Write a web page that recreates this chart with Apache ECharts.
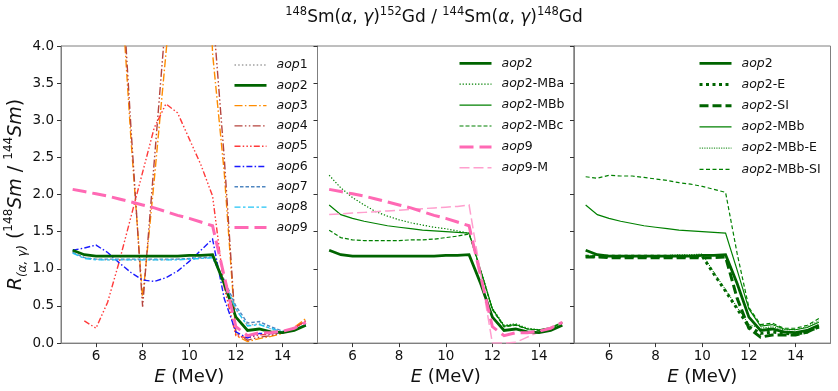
<!DOCTYPE html>
<html>
<head>
<meta charset="utf-8">
<script src="https://cdn.jsdelivr.net/npm/echarts@6/dist/echarts.min.js"></script>
<style>html,body{margin:0;padding:0;background:#fff}#c{width:838px;height:391px}</style>
</head>
<body>
<div id="c"></div>
<script>
// ---- data ----
const E = [5, 5.5, 6, 6.5, 7, 7.5, 8, 8.5, 9, 9.5, 10, 10.5, 11, 11.5, 12, 12.5, 13, 13.5, 14, 14.5, 15];
const xTicks = [6, 8, 10, 12, 14];
const yTicks = [0, 0.5, 1, 1.5, 2, 2.5, 3, 3.5, 4];

const aop1 = [1.22, 1.15, 1.13, 1.12, 1.12, 1.12, 1.12, 1.12, 1.12, 1.13, 1.13, 1.14, 1.15, 0.82, 0.45, 0.24, 0.26, 0.19, 0.15, 0.18, 0.25];
const aop2 = [1.25, 1.19, 1.17, 1.17, 1.17, 1.17, 1.17, 1.17, 1.17, 1.17, 1.18, 1.18, 1.19, 0.80, 0.35, 0.17, 0.19, 0.15, 0.14, 0.17, 0.24];
const aop3 = [7.5, 8.5, 9.0, 8.0, 5.2, 2.75, 0.6, 2.2, 3.9, 5.6, 7.0, 8.0, 3.9, 2.3, 0.10, 0.02, 0.06, 0.09, 0.13, 0.21, 0.33];
const aop4 = [7.8, 8.8, 9.3, 8.3, 5.5, 2.9, 0.49, 2.45, 4.4, 6.0, 7.3, 9.0, 4.5, 2.5, 0.13, 0.04, 0.08, 0.10, 0.14, 0.20, 0.30];
const aop5 = [null, 0.30, 0.20, 0.55, 1.10, 1.70, 2.30, 2.90, 3.22, 3.10, 2.75, 2.40, 1.98, 0.75, 0.10, 0.07, 0.11, 0.12, 0.14, 0.20, 0.30];
const aop6 = [1.25, 1.28, 1.32, 1.22, 1.08, 0.95, 0.85, 0.83, 0.88, 0.97, 1.10, 1.25, 1.40, 0.60, 0.15, 0.07, 0.13, 0.13, 0.14, 0.18, 0.24];
const aop7 = [1.22, 1.15, 1.13, 1.13, 1.13, 1.13, 1.13, 1.13, 1.13, 1.13, 1.14, 1.15, 1.16, 0.85, 0.50, 0.27, 0.29, 0.22, 0.16, 0.18, 0.24];
const aop8 = [1.21, 1.14, 1.12, 1.12, 1.12, 1.12, 1.12, 1.12, 1.12, 1.12, 1.13, 1.14, 1.15, 0.82, 0.46, 0.23, 0.25, 0.20, 0.15, 0.18, 0.25];
const aop9 = [2.07, 2.04, 2.01, 1.98, 1.94, 1.90, 1.86, 1.82, 1.77, 1.72, 1.68, 1.63, 1.58, 0.90, 0.22, 0.10, 0.14, 0.14, 0.16, 0.20, 0.28];
const aop9M = [1.73, 1.74, 1.75, 1.76, 1.77, 1.78, 1.79, 1.80, 1.81, 1.82, 1.83, 1.84, 1.86, 0.93, 0.00, 0.00, 0.01, 0.08, 0.15, 0.21, 0.28];
const aop2MBa = [2.26, 2.09, 1.96, 1.86, 1.77, 1.71, 1.66, 1.62, 1.59, 1.56, 1.54, 1.51, 1.48, 0.98, 0.47, 0.24, 0.26, 0.20, 0.18, 0.20, 0.27];
const aop2MBb = [1.86, 1.73, 1.68, 1.64, 1.61, 1.58, 1.56, 1.54, 1.52, 1.51, 1.50, 1.49, 1.48, 0.98, 0.46, 0.23, 0.25, 0.19, 0.18, 0.21, 0.28];
const aop2MBc = [1.52, 1.42, 1.39, 1.38, 1.38, 1.38, 1.38, 1.39, 1.39, 1.40, 1.42, 1.44, 1.47, 0.97, 0.45, 0.22, 0.24, 0.19, 0.17, 0.20, 0.27];
const aop2E = [1.17, 1.17, 1.17, 1.17, 1.17, 1.17, 1.17, 1.17, 1.17, 1.17, 1.17, 0.93, 0.70, 0.46, 0.22, 0.13, 0.15, 0.13, 0.12, 0.15, 0.22];
const aop2SI = [1.16, 1.16, 1.15, 1.15, 1.15, 1.15, 1.15, 1.15, 1.15, 1.15, 1.15, 1.15, 1.16, 0.60, 0.20, 0.08, 0.11, 0.11, 0.11, 0.15, 0.22];
const aop2MBbE = [1.18, 1.18, 1.18, 1.18, 1.18, 1.18, 1.18, 1.18, 1.19, 1.19, 1.20, 0.95, 0.72, 0.48, 0.25, 0.20, 0.22, 0.18, 0.18, 0.22, 0.30];
const aop2MBbSI = [2.24, 2.22, 2.26, 2.25, 2.25, 2.23, 2.21, 2.19, 2.16, 2.14, 2.11, 2.07, 2.03, 1.20, 0.48, 0.25, 0.27, 0.20, 0.20, 0.24, 0.33];

// ---- styling ----
const FONT = 'DejaVu Sans';
const SPINE = '#7f7f7f';
const panelsLeft = [61, 317.5, 574];
const panelW = 256.5;

function pts(arr) { return E.map((e, i) => [e, arr[i]]); }
function mk(name, arr, g, color, width, type, z) {
  return {
    name: name, type: 'line', xAxisIndex: g, yAxisIndex: g,
    data: pts(arr), symbol: 'none', showSymbol: false, animation: false,
    clip: true, z: z || 2, silent: true,
    lineStyle: { color: color, width: width, type: type, cap: 'butt', join: 'miter' },
    itemStyle: { color: color }
  };
}
const DG = '#006400', G = '#008000';
const st = {
  aop1: ['#a0a0a0', 1.3, [1.5, 2.2]],
  aop2: [DG, 2.8, 'solid'],
  aop3: ['#ff8c00', 1.4, [8, 2.4, 1.5, 2.4]],
  aop4: ['#b5443e', 1.4, [8, 2.4, 1.5, 2.4, 1.5, 2.4]],
  aop5: ['#ff3a3a', 1.4, [6, 2.2, 1.5, 2.2, 1.5, 2.2, 1.5, 2.2]],
  aop6: ['#1a1aff', 1.4, [6, 2.2, 1.5, 2.2]],
  aop7: ['#4f86c0', 1.4, [3.5, 2]],
  aop8: ['#22c4f5', 1.4, [6, 2.5, 2.5, 2.5]],
  aop9: ['#ff69b4', 3, [14, 6]],
  'aop9-M': ['#ff9fce', 1.5, [10, 4]],
  'aop2-MBa': [G, 1.2, [1.3, 1.8]],
  'aop2-MBb': [G, 1.2, 'solid'],
  'aop2-MBc': [G, 1.2, [4, 2]],
  'aop2-E': [DG, 3, [3, 3.5]],
  'aop2-SI': [DG, 3, [9, 4]],
  'aop2-MBb-E': [G, 1, [1.2, 1.2]],
  'aop2-MBb-SI': [G, 1.2, [4, 2.5]]
};
function S(name, arr, g, z) { const s = st[name]; return mk(name, arr, g, s[0], s[1], s[2], z); }

const series = [
  S('aop1', aop1, 0), S('aop2', aop2, 0, 3), S('aop3', aop3, 0), S('aop4', aop4, 0), S('aop5', aop5, 0),
  S('aop6', aop6, 0), S('aop7', aop7, 0), S('aop8', aop8, 0), S('aop9', aop9, 0, 4),
  S('aop2', aop2, 1, 3), S('aop2-MBa', aop2MBa, 1), S('aop2-MBb', aop2MBb, 1), S('aop2-MBc', aop2MBc, 1),
  S('aop9', aop9, 1, 4), S('aop9-M', aop9M, 1),
  S('aop2', aop2, 2, 3), S('aop2-E', aop2E, 2), S('aop2-SI', aop2SI, 2), S('aop2-MBb', aop2MBb, 2),
  S('aop2-MBb-E', aop2MBbE, 2), S('aop2-MBb-SI', aop2MBbSI, 2)
];

const legendNames = [
  ['aop1', 'aop2', 'aop3', 'aop4', 'aop5', 'aop6', 'aop7', 'aop8', 'aop9'],
  ['aop2', 'aop2-MBa', 'aop2-MBb', 'aop2-MBc', 'aop9', 'aop9-M'],
  ['aop2', 'aop2-E', 'aop2-SI', 'aop2-MBb', 'aop2-MBb-E', 'aop2-MBb-SI']
];
const legendPos = [[233, 58, 6.3], [458, 56.3, 6.9], [698, 56.3, 7.2]];

const legends = legendNames.map((names, k) => ({
  orient: 'vertical', left: legendPos[k][0], top: legendPos[k][1],
  itemWidth: 32, itemHeight: 14, itemGap: legendPos[k][2],
  selectedMode: false, padding: 0,
  data: names.map(n => ({ name: n, lineStyle: { width: st[n][1], type: st[n][2], color: st[n][0] } })),
  itemStyle: { opacity: 0, borderWidth: 0 },
  formatter: n => '{i|aop}{n|' + n.slice(3) + '}',
  textStyle: {
    fontFamily: FONT, fontSize: 12.5, color: '#111', padding: [0, 0, 0, 5], lineHeight: 14,
    rich: { i: { fontStyle: 'italic', fontFamily: FONT, fontSize: 12.5, color: '#111' }, n: { fontFamily: FONT, fontSize: 12.5, color: '#111' } }
  }
}));

const grids = panelsLeft.map(l => ({ left: l, top: 46, width: panelW, height: 299, show: true, borderColor: SPINE, borderWidth: 1, backgroundColor: 'transparent' }));

const xAxes = panelsLeft.map((l, g) => ({
  type: 'value', gridIndex: g, min: 4.5, max: 15.5,
  splitLine: { show: false },
  axisLine: { show: true, onZero: false, lineStyle: { color: SPINE, width: 1 } },
  axisTick: { show: true, length: 4, customValues: xTicks, lineStyle: { color: '#333' } },
  axisLabel: { customValues: xTicks, fontFamily: FONT, fontSize: 13.5, color: '#111', margin: 6 },
  name: '{i|E} (MeV)', nameLocation: 'middle', nameGap: 19,
  nameTextStyle: { fontFamily: FONT, fontSize: 18, color: '#111', rich: { i: { fontStyle: 'italic', fontFamily: FONT, fontSize: 18, color: '#111' } } }
}));

const yAxes = panelsLeft.map((l, g) => ({
  type: 'value', gridIndex: g, min: 0, max: 4, interval: 0.5,
  splitLine: { show: false },
  axisLine: { show: true, onZero: false, lineStyle: { color: SPINE, width: 1 } },
  axisTick: { show: true, length: 4, lineStyle: { color: '#333' } },
  axisLabel: { show: g === 0, customValues: yTicks, fontFamily: FONT, fontSize: 13.5, color: '#111', margin: 7, formatter: v => v.toFixed(1) },
  name: g === 0 ? '{ri|R}{sub|(α, γ)} ({sup|148}{ri|Sm} / {sup|144}{ri|Sm})' : '',
  nameLocation: 'middle', nameRotate: 90, nameGap: 32,
  nameTextStyle: {
    fontFamily: FONT, fontSize: 19, color: '#111', lineHeight: 26,
    rich: {
      ri: { fontStyle: 'italic', fontFamily: FONT, fontSize: 19, color: '#111', lineHeight: 26 },
      sub: { fontStyle: 'italic', fontFamily: FONT, fontSize: 12, color: '#111', lineHeight: 12, verticalAlign: 'bottom' },
      sup: { fontFamily: FONT, fontSize: 12, color: '#111', lineHeight: 12, verticalAlign: 'top' }
    }
  }
}));

const chart = echarts.init(document.getElementById('c'), null, { renderer: 'canvas' });
chart.setOption({
  backgroundColor: '#fff',
  animation: false,
  title: {
    text: '{sup|148}Sm({gi|α}, {gi|γ}){sup|152}Gd / {sup|144}Sm({gi|α}, {gi|γ}){sup|148}Gd',
    left: 434, top: 6, textAlign: 'center', padding: 0,
    textStyle: {
      fontFamily: FONT, fontSize: 17, fontWeight: 'normal', color: '#111', lineHeight: 24,
      rich: {
        sup: { fontFamily: FONT, fontSize: 11.5, color: '#111', lineHeight: 11, verticalAlign: 'top' },
        gi: { fontFamily: FONT, fontStyle: 'italic', fontSize: 17, color: '#111', lineHeight: 24 }
      }
    }
  },
  legend: legends,
  grid: grids,
  xAxis: xAxes,
  yAxis: yAxes,
  series: series
});
</script>
</body>
</html>
